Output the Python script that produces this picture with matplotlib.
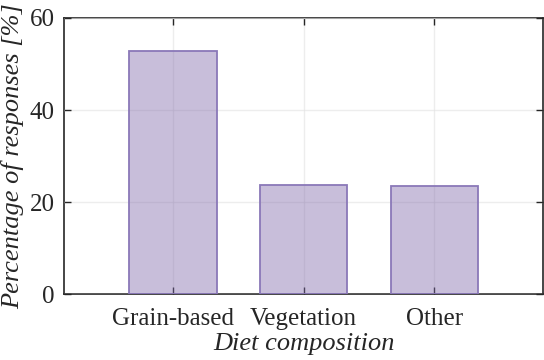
import matplotlib.pyplot as plt
import numpy as np

categories = ['Grain-based', 'Vegetation', 'Other']
percent = [52.8, 23.8, 23.4]
yticks = [0, 20, 40, 60]

plt.rcParams['font.family'] = ['Liberation Serif', 'DejaVu Serif']

fig = plt.figure(figsize=(5.44, 3.6), dpi=100)
ax = fig.add_axes([0.118, 0.183, 0.88, 0.767])

x = np.arange(1, len(categories) + 1)
ax.bar(x, percent, width=0.67, color=(0.49, 0.40, 0.66, 0.42),
       edgecolor='#8a78b8', linewidth=1.3, zorder=3)

ax.set_xlim(0.17, 3.83)
ax.set_ylim(0, 60)
ax.set_xticks(x)
ax.set_xticklabels(categories)
ax.set_yticks(yticks)
ax.grid(True, color='#e2e2e2', linewidth=1.0, zorder=4)
ax.set_axisbelow(False)
for gl in ax.get_xgridlines() + ax.get_ygridlines():
    gl.set_alpha(0.6)

ax.tick_params(direction='in', top=True, right=True, length=5, width=1,
               labelsize=18, colors='#262626', pad=7)
ax.tick_params(axis='x', pad=10)
for s in ax.spines.values():
    s.set_linewidth(1.2)
    s.set_color('#262626')

ax.set_ylabel('Percentage of responses [%]', fontsize=19, style='italic',
              color='#262626', labelpad=4)
ax.set_xlabel('Diet composition', fontsize=19, style='italic',
              color='#262626', labelpad=2)

fig.savefig('out.png', dpi=100)
